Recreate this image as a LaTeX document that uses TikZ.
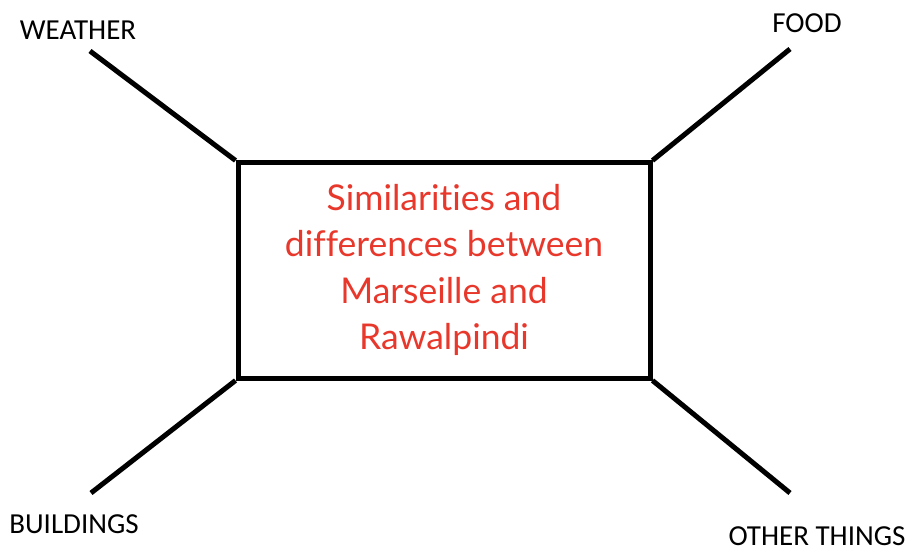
\documentclass[tikz,border=0pt]{standalone}
\usepackage{fontspec}
\setmainfont{Carlito}
\newfontfamily\handfont[Ligatures=NoCommon]{Lato}
\usepackage{tikz}
\usetikzlibrary{positioning}
\definecolor{topicred}{RGB}{232,56,44}

\begin{document}
\begin{tikzpicture}[
    x=1pt, y=-1pt,
    centre/.style={rectangle, draw, line width=5pt, minimum width=412pt, minimum height=215pt, inner sep=0pt},
    topic/.style={text=topicred, align=center, font=\handfont\fontsize{35.5}{46.5}\selectfont},
    leg/.style={line width=5pt},
    heading/.style={font=\fontsize{29}{31}\selectfont, inner sep=0pt}
]
\useasboundingbox (0,0) rectangle (911,548);

% Central box
\node[centre] (box) at (444,270.5) {};
\node[topic] (title) at (444,270) {Similarities and\\differences between\\Marseille and\\Rawalpindi};

% Headings
\node[heading] (weather) at (78,30) {WEATHER};
\node[heading] (food) at (807,23) {FOOD};
\node[heading] (buildings) at (74,524) {BUILDINGS};
\node[heading] (other) at (817,536) {OTHER THINGS};

% Leg ends
\coordinate (weatherend) at (90,51);
\coordinate (foodend) at (790,49);
\coordinate (buildingsend) at (91,493);
\coordinate (otherend) at (790,493);

% Legs
\draw[leg] (box.north west) -- (weatherend);
\draw[leg] (box.north east) -- (foodend);
\draw[leg] (box.south west) -- (buildingsend);
\draw[leg] (box.south east) -- (otherend);

\end{tikzpicture}
\end{document}
